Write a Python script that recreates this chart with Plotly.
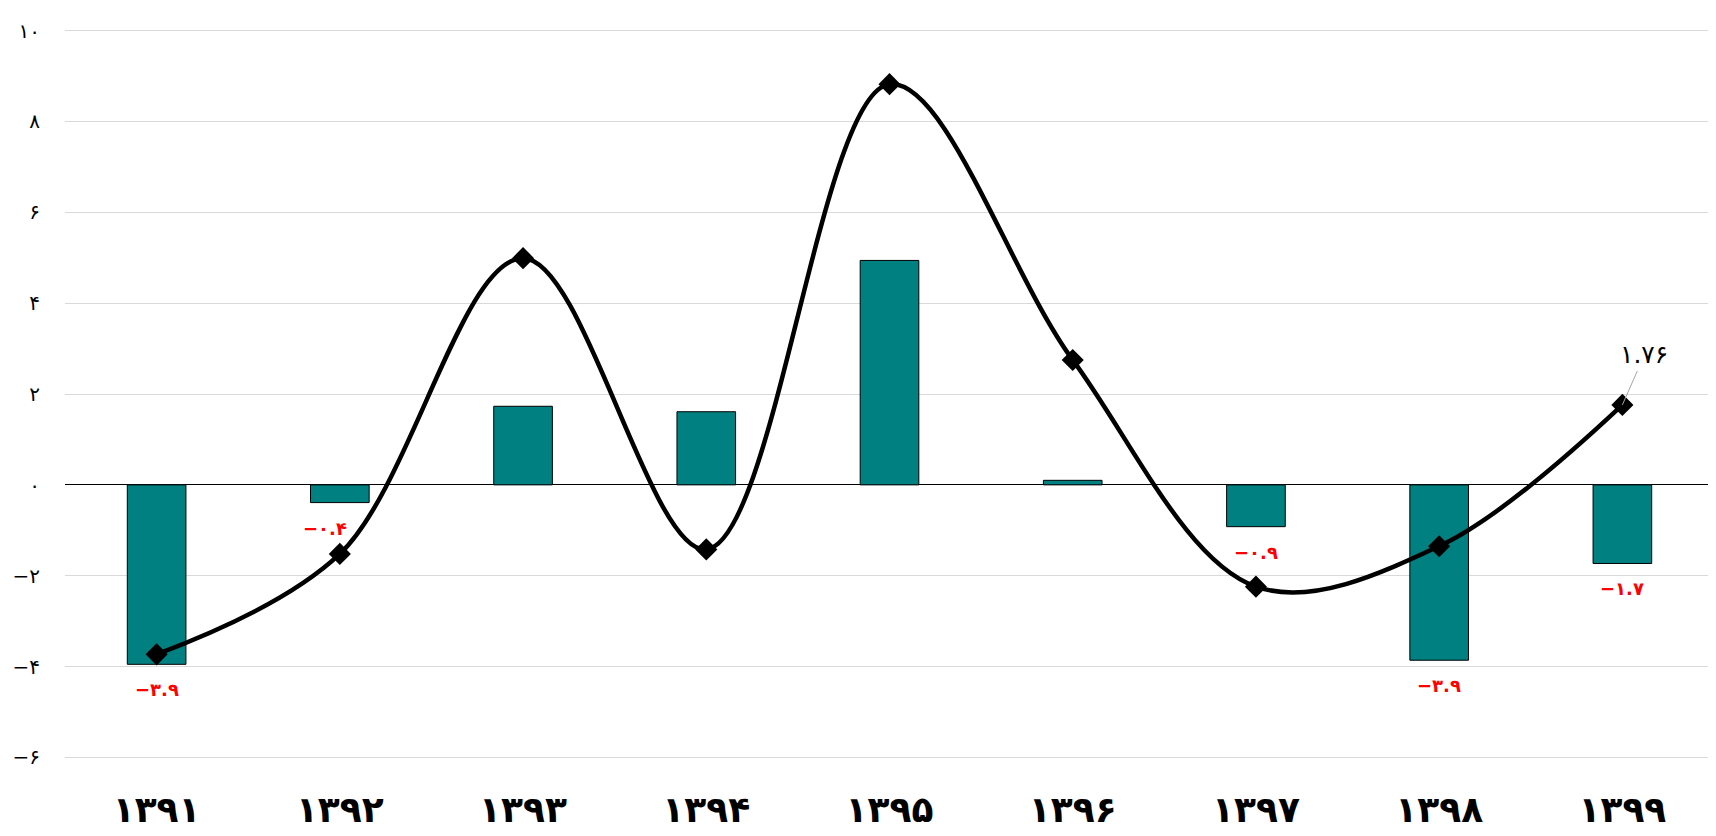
import plotly.graph_objects as go

years = ["۱۳۹۱", "۱۳۹۲", "۱۳۹۳", "۱۳۹۴", "۱۳۹۵", "۱۳۹۶", "۱۳۹۷", "۱۳۹۸", "۱۳۹۹"]
bar_values = [-3.95, -0.39, 1.73, 1.61, 4.94, 0.1, -0.92, -3.86, -1.73]
bar_labels = ["−۳.۹", "−۰.۴", "", "", "", "", "−۰.۹", "−۳.۹", "−۱.۷"]
line_values = [-3.73, -1.52, 4.99, -1.42, 8.82, 2.75, -2.24, -1.35, 1.76]
last_label = "۱.۷۶"
y_ticks = [-6, -4, -2, 0, 2, 4, 6, 8, 10]
y_tick_text = ["−۶", "−۴", "−۲", "۰", "۲", "۴", "۶", "۸", "۱۰"]

FONT = "DejaVu Sans"
# horizontal nudges (px) for labels that sit beside the line in the original
label_nudge = {1: -15}

fig = go.Figure()
fig.add_trace(go.Bar(
    x=years, y=bar_values, width=0.32,
    marker=dict(color="#008080", line=dict(color="black", width=1)),
    showlegend=False, hoverinfo="skip",
))
fig.add_trace(go.Scatter(
    x=years, y=line_values, mode="lines+markers",
    line=dict(color="black", width=4.5, shape="spline", smoothing=1.0),
    marker=dict(symbol="diamond", size=17, color="black"),
    cliponaxis=False, showlegend=False,
))
for i, (yr, v, lab) in enumerate(zip(years, bar_values, bar_labels)):
    if lab:
        fig.add_annotation(
            x=yr, y=v, text=lab, showarrow=False, yanchor="top", yshift=-13,
            xshift=label_nudge.get(i, 0),
            font=dict(family=FONT, size=18, color="#ff0000", weight="bold"),
        )
fig.add_annotation(
    x=years[-1], y=line_values[-1], text=last_label,
    showarrow=True, arrowhead=0, arrowwidth=1, arrowcolor="#a6a6a6",
    ax=22, ay=-50, standoff=0,
    font=dict(family=FONT, size=25, color="black"),
)
fig.add_shape(type="line", xref="paper", yref="paper", x0=1, x1=1, y0=-0.02, y1=1.05,
              line=dict(color="#c8c8c8", width=1))

# page body has an 8px margin, so the figure is sized to fit the window
fig.update_layout(
    width=1708, height=828,
    margin=dict(l=57, r=2, t=18, b=74),
    plot_bgcolor="white", paper_bgcolor="white",
    xaxis=dict(
        showgrid=False, zeroline=False, showline=False, ticks="",
        tickfont=dict(family=FONT, size=36, color="black", weight="bold"),
        ticklabelstandoff=23, automargin=False, range=[-0.5, 8.5],
    ),
    yaxis=dict(
        range=[-6.1, 10.1], tickvals=y_ticks, ticktext=y_tick_text,
        showgrid=True, gridcolor="#d9d9d9", gridwidth=1,
        zeroline=True, zerolinecolor="black", zerolinewidth=1,
        tickfont=dict(family=FONT, size=20, color="black"),
        ticklabelstandoff=24, showline=False, automargin=False,
    ),
)
fig.write_html("out.html")
